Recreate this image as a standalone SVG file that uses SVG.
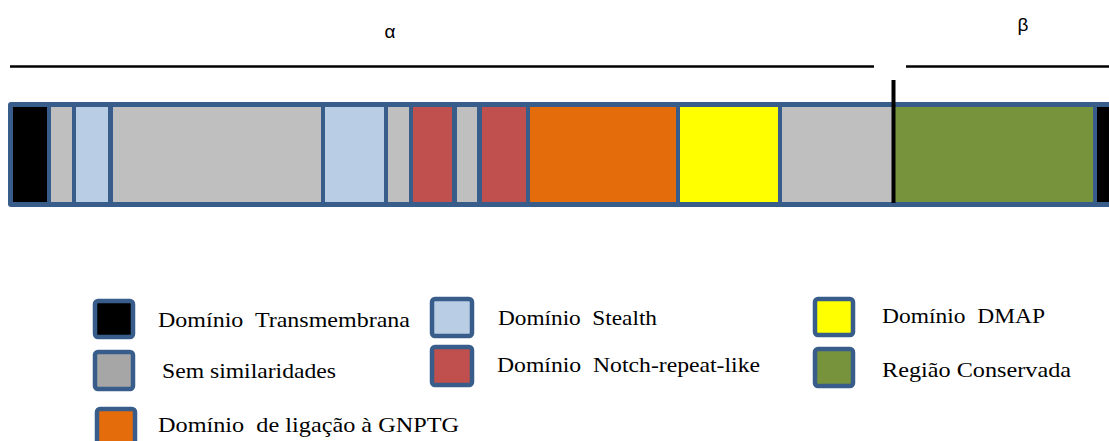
<svg xmlns="http://www.w3.org/2000/svg" width="1109" height="441" viewBox="0 0 1109 441">
<style>
.lbl{font-family:'Times New Roman',Times,'Liberation Serif',serif;font-size:21px;fill:#000}
.greek{font-family:'Liberation Sans',Arial,sans-serif;font-size:19px;fill:#000}
.key{stroke:#385D8A;stroke-width:4.5}
</style>
<rect width="1109" height="441" fill="#fff"/>
<g id="ranges">
<line x1="10" y1="66.5" x2="874" y2="66.5" stroke="#000" stroke-width="2.5"/>
<line x1="906" y1="66.5" x2="1109" y2="66.5" stroke="#000" stroke-width="2.5"/>
<text class="greek" x="390" y="38" text-anchor="middle">α</text>
<text class="greek" x="1023" y="31" text-anchor="middle">β</text>
</g>
<g id="bar">
<rect x="8" y="102" width="1115" height="105" rx="3" fill="#385D8A"/>
<rect x="13" y="107" width="34" height="95" fill="#000"/>
<rect x="51" y="107" width="21" height="95" fill="#BFBFBF"/>
<rect x="76" y="107" width="32" height="95" fill="#B9CDE5"/>
<rect x="113" y="107" width="208" height="95" fill="#BFBFBF"/>
<rect x="325" y="107" width="59" height="95" fill="#B9CDE5"/>
<rect x="388" y="107" width="21" height="95" fill="#BFBFBF"/>
<rect x="413" y="107" width="39" height="95" fill="#C0504D"/>
<rect x="457" y="107" width="20" height="95" fill="#BFBFBF"/>
<rect x="482" y="107" width="44" height="95" fill="#C0504D"/>
<rect x="530" y="107" width="146" height="95" fill="#E46C0A"/>
<rect x="680" y="107" width="98" height="95" fill="#FFFF00"/>
<rect x="782" y="107" width="112" height="95" fill="#BFBFBF"/>
<rect x="894" y="107" width="199" height="95" fill="#77933C"/>
<rect x="1097" y="107" width="20" height="95" fill="#000"/>
<line x1="893.5" y1="80" x2="893.5" y2="203" stroke="#000" stroke-width="4"/>
</g>
<g id="legend-transmembrana">
<rect class="key" x="95" y="301" width="38" height="36" rx="3" fill="#000"/>
<text class="lbl" x="158" y="327" xml:space="preserve" textLength="252" lengthAdjust="spacingAndGlyphs">Domínio  Transmembrana</text>
</g>
<g id="legend-sem">
<rect class="key" x="95" y="352" width="38" height="37" rx="3" fill="#A6A6A6"/>
<text class="lbl" x="162" y="378" textLength="174" lengthAdjust="spacingAndGlyphs">Sem similaridades</text>
</g>
<g id="legend-gnptg">
<rect class="key" x="97" y="409" width="38" height="40" rx="3" fill="#E46C0A"/>
<text class="lbl" x="158" y="432" xml:space="preserve" textLength="301" lengthAdjust="spacingAndGlyphs">Domínio  de ligação à GNPTG</text>
</g>
<g id="legend-stealth">
<rect class="key" x="432" y="299" width="40" height="37" rx="3" fill="#B9CDE5"/>
<text class="lbl" x="498" y="325" xml:space="preserve" textLength="159" lengthAdjust="spacingAndGlyphs">Domínio  Stealth</text>
</g>
<g id="legend-notch">
<rect class="key" x="432" y="347" width="40" height="38" rx="3" fill="#C0504D"/>
<text class="lbl" x="497" y="372" xml:space="preserve" textLength="263" lengthAdjust="spacingAndGlyphs">Domínio  Notch-repeat-like</text>
</g>
<g id="legend-dmap">
<rect class="key" x="815" y="299" width="38" height="36" rx="3" fill="#FFFF00"/>
<text class="lbl" x="882" y="323" xml:space="preserve" textLength="163" lengthAdjust="spacingAndGlyphs">Domínio  DMAP</text>
</g>
<g id="legend-conservada">
<rect class="key" x="815" y="349" width="38" height="37" rx="3" fill="#77933C"/>
<text class="lbl" x="882" y="377" textLength="189" lengthAdjust="spacingAndGlyphs">Região Conservada</text>
</g>
</svg>
